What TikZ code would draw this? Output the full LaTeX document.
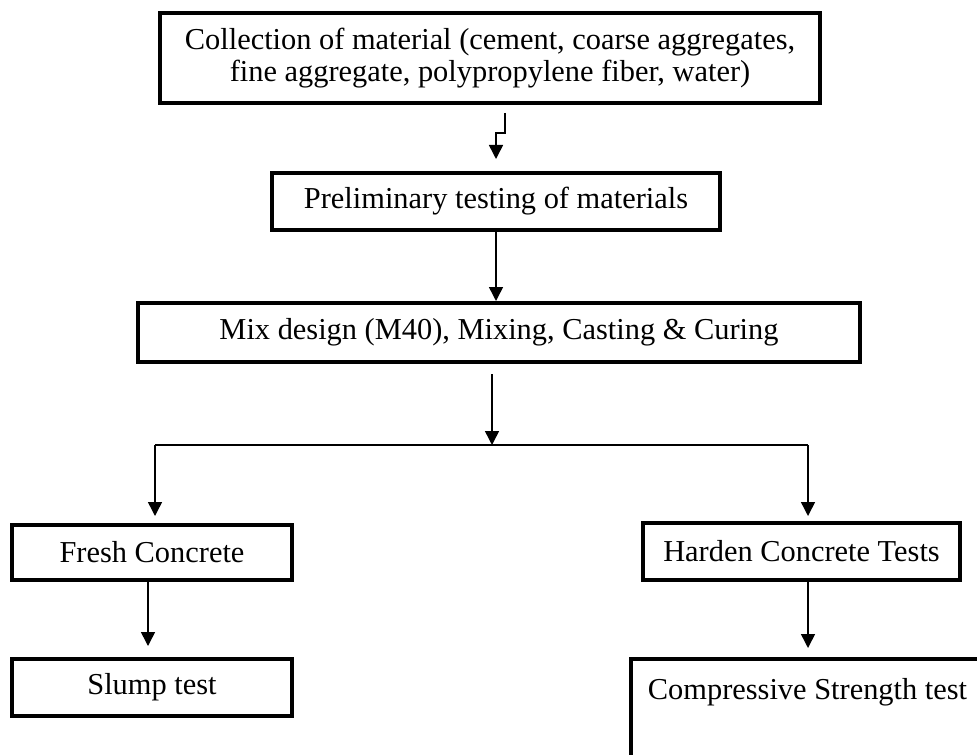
\documentclass[tikz,border=0pt]{standalone}
\usepackage{fontspec}
\setmainfont{Liberation Serif}
\usepackage{tikz}
\usetikzlibrary{arrows.meta}

\begin{document}
\begin{tikzpicture}[x=0.5pt, y=-0.5pt,
    box/.style={rectangle, draw=black, line width=2pt, inner sep=0pt, align=center, font=\fontsize{15.2}{16}\selectfont},
    arr/.style={-{Triangle[width=7pt, length=7pt]}, line width=0.75pt},
    line/.style={line width=0.75pt}]
    \useasboundingbox (0,0) rectangle (977,754);
    \clip (0,0) rectangle (977,754);

    \node (coll) at (490,58) [box, minimum width=330pt, minimum height=45pt] {Collection of material (cement, coarse aggregates,\\fine aggregate, polypropylene fiber, water)};
    \node (prelim) at (496,201.5) [box, minimum width=224pt, minimum height=28.5pt] {Preliminary testing of materials};
    \node (mix) at (499,332.5) [box, minimum width=361pt, minimum height=29.5pt] {Mix design (M40), Mixing, Casting \& Curing};
    \node (fresh) at (152,552.5) [box, minimum width=140pt, minimum height=27.5pt] {Fresh Concrete};
    \node (slump) at (152,687.5) [box, minimum width=140pt, minimum height=28.5pt] {Slump test};
    \node (harden) at (801.5,551.5) [box, minimum width=158.5pt, minimum height=28.5pt] {Harden Concrete Tests};
    \node (compr) at (807.5,657) [box, anchor=north, minimum width=176.5pt, minimum height=80pt] {};
    \node (comprtext) at (807.5,692) [box, draw=none] {Compressive Strength test};

    % connectors
    \coordinate (jog) at (505,133);
    \coordinate (split) at (492,445);
    \coordinate (left) at (155,445);
    \coordinate (right) at (808,445);

    \draw[arr] ([yshift=-4pt]coll.south -| jog) -- (jog) -| ([yshift=6pt]prelim.north);
    \draw[arr] (prelim.south) -- (prelim.south |- mix.north);
    \draw[arr] ([yshift=-5pt]mix.south -| split) -- (split);
    \draw[line] (left) -- (right);
    \draw[arr] (left) -- ([yshift=3.5pt]fresh.north -| left);
    \draw[arr] (right) -- ([yshift=2.5pt]harden.north -| right);
    \draw[arr] ([xshift=-2pt]fresh.south) -- ([xshift=-2pt, yshift=5.5pt]slump.north);
    \draw[arr] (harden.south -| right) -- ([yshift=4.5pt]compr.north -| right);
\end{tikzpicture}
\end{document}
